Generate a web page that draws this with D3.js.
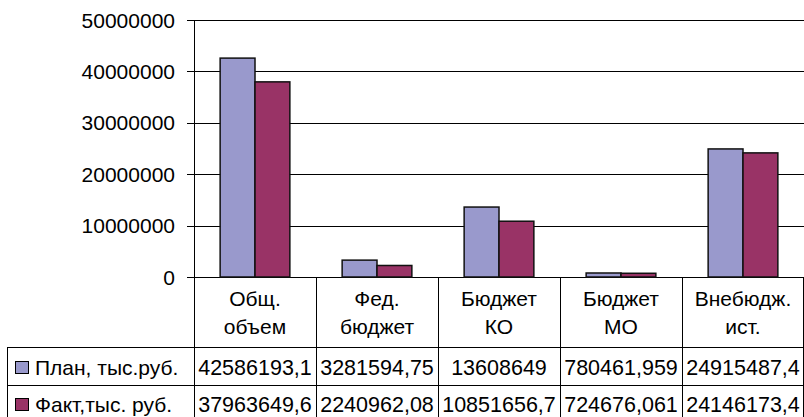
<!DOCTYPE html>
<html>
<head>
<meta charset="utf-8">
<script src="https://cdn.jsdelivr.net/npm/d3@7"></script>
<style>
body { margin: 0; background: #fff; }
svg { display: block; font-family: "Liberation Sans", Arial, sans-serif; }
</style>
</head>
<body>
<svg id="chart" width="804" height="417"></svg>
<script>
var categories = [["Общ.", "объем"], ["Фед.", "бюджет"], ["Бюджет", "КО"], ["Бюджет", "МО"], ["Внебюдж.", "ист."]]
var seriesNames = ["План, тыс.руб.", "Факт,тыс. руб."]
var plan = [42586193.1, 3281594.75, 13608649, 780461.959, 24915487.4]
var fact = [37963649.6, 2240962.08, 10851656.7, 724676.061, 24146173.4]
var yTicks = [0, 10000000, 20000000, 30000000, 40000000, 50000000]
var colors = ["#9999cc", "#993366"]

var svg = d3.select("#chart")

// note: "top" is taken by window.top
var plotLeft = 194, plotRight = 804, plotTop = 20, base = 277
var tableLeft = 7, headBottom = 347, rowH = 38

var series = [plan, fact]

var x_scale = d3.scaleBand()
	.domain(d3.range(categories.length))
	.range([plotLeft, plotRight])
	.paddingInner(0)
	.paddingOuter(0)

var y_scale = d3.scaleLinear()
	.domain([0, 50000000])
	.range([base, plotTop])

// bar width: excel gap width 150%
var bw = x_scale.bandwidth() / 3.5

// gridlines
svg.append("g")
	.selectAll("line")
	.data(yTicks)
	.join("line")
	.attr("x1", plotLeft - 7)
	.attr("x2", plotRight)
	.attr("y1", function(d) { return Math.round(y_scale(d)) + 0.5 })
	.attr("y2", function(d) { return Math.round(y_scale(d)) + 0.5 })
	.attr("stroke", "#000")
	.attr("stroke-width", 1)

svg.append("g")
	.selectAll("text")
	.data(yTicks)
	.join("text")
	.attr("x", 175)
	.attr("y", function(d) { return y_scale(d) })
	.attr("dy", "0.36em")
	.attr("text-anchor", "end")
	.attr("font-size", "21px")
	.text(function(d) { return d })

// bars
series.forEach(function(vals, s) {
	svg.append("g")
		.selectAll("rect")
		.data(vals)
		.join("rect")
		.attr("x", function(d, i) { return x_scale(i) + bw * 0.75 + s * bw })
		.attr("y", function(d) { return y_scale(d) })
		.attr("width", bw)
		.attr("height", function(d) { return base - y_scale(d) })
		.attr("fill", colors[s])
		.attr("stroke", "#111")
		.attr("stroke-width", 1.5)
})

// y axis line, continues as table border
svg.append("line")
	.attr("x1", plotLeft + 0.5).attr("x2", plotLeft + 0.5)
	.attr("y1", plotTop).attr("y2", 417)
	.attr("stroke", "#000")

// table vertical lines
svg.append("g")
	.selectAll("line")
	.data(d3.range(1, categories.length + 1))
	.join("line")
	.attr("x1", function(i) { return Math.min(Math.round(x_scale(i) || plotRight), plotRight - 1) + 0.5 })
	.attr("x2", function(i) { return Math.min(Math.round(x_scale(i) || plotRight), plotRight - 1) + 0.5 })
	.attr("y1", base)
	.attr("y2", 417)
	.attr("stroke", "#000")

// table horizontal lines
svg.append("g")
	.selectAll("line")
	.data([headBottom, headBottom + rowH])
	.join("line")
	.attr("x1", tableLeft)
	.attr("x2", plotRight)
	.attr("y1", function(d) { return d + 0.5 })
	.attr("y2", function(d) { return d + 0.5 })
	.attr("stroke", "#000")

svg.append("line")
	.attr("x1", tableLeft + 0.5).attr("x2", tableLeft + 0.5)
	.attr("y1", headBottom).attr("y2", 417)
	.attr("stroke", "#000")

// header labels
var head = svg.append("g")
	.selectAll("text")
	.data(categories)
	.join("text")
	.attr("x", function(d, i) { return x_scale(i) + x_scale.bandwidth() / 2 })
	.attr("text-anchor", "middle")
	.attr("font-size", "21px")

head.append("tspan")
	.attr("y", 306)
	.attr("x", function(d, i) { return x_scale(i) + x_scale.bandwidth() / 2 })
	.text(function(d) { return d[0] })
head.append("tspan")
	.attr("y", 334)
	.attr("x", function(d, i) { return x_scale(i) + x_scale.bandwidth() / 2 })
	.text(function(d) { return d[1] })

// data rows
series.forEach(function(vals, s) {
	var ty = headBottom + 28 + 37 * s
	svg.append("rect")
		.attr("x", 15.5)
		.attr("y", ty - 13.5)
		.attr("width", 13)
		.attr("height", 12)
		.attr("fill", colors[s])
		.attr("stroke", "#000")
	svg.append("text")
		.attr("x", 35)
		.attr("y", ty)
		.attr("font-size", "21px")
		.text(seriesNames[s])
	svg.append("g")
		.selectAll("text")
		.data(vals)
		.join("text")
		.attr("x", function(d, i) { return x_scale(i) + x_scale.bandwidth() / 2 })
		.attr("y", ty)
		.attr("text-anchor", "middle")
		.attr("font-size", "21.5px")
		.text(function(d) { return String(d).replace(".", ",") })
})
</script>
</body>
</html>
